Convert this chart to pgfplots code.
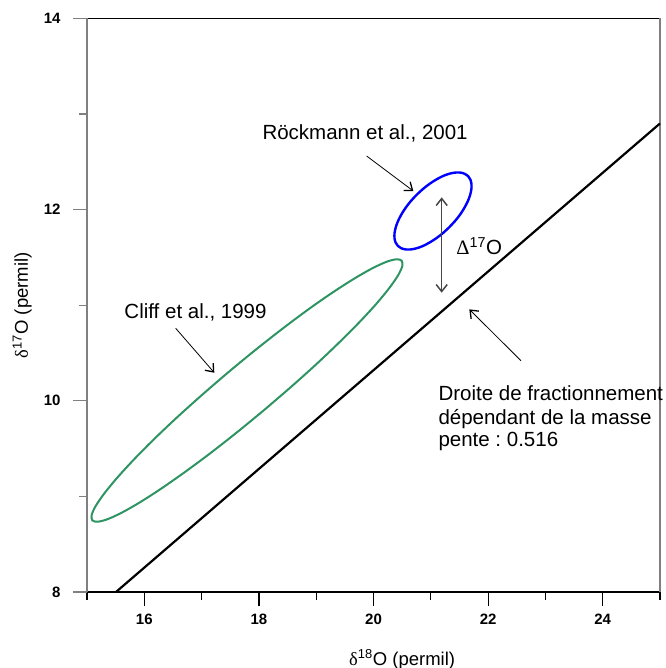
\documentclass[border=0pt]{standalone}
\usepackage{fontspec}
\setmainfont{Liberation Sans}
\newfontfamily\grk{Liberation Serif}
\usepackage{pgfplots}
\pgfplotsset{compat=1.18}
\usetikzlibrary{arrows.meta}
\definecolor{cliffgreen}{RGB}{46,148,98}
\definecolor{axisgray}{RGB}{128,128,128}
\definecolor{arrowgray}{RGB}{70,70,70}
\newcommand{\annfont}{\fontsize{20.5bp}{22bp}\selectfont}
\frenchspacing

\begin{document}
\begin{tikzpicture}
\begin{axis}[
  scale only axis, width=573bp, height=573.5bp,
  xmin=15, xmax=25, ymin=8, ymax=14,
  xtick={16,18,...,24}, minor xtick={15,17,...,25},
  ytick={8,10,12,14}, minor ytick={9,11,13},
  separate axis lines,
  x axis line style={black, line width=1.4bp},
  y axis line style={axisgray, line width=1.6bp},
  xtick pos=left, ytick pos=left,
  tick align=outside,
  major tick length=14bp, minor tick length=8bp,
  x tick style={black, line width=1.2bp},
  y tick style={axisgray, line width=1.2bp},
  tick label style={font=\bfseries\fontsize{15bp}{15bp}\selectfont},
  xticklabel style={yshift=-5bp},
  yticklabel style={xshift=-9bp},
  /pgf/number format/assume math mode=true,
  xlabel={{\grk δ}\textsuperscript{18}O (permil)},
  ylabel={{\grk δ}\textsuperscript{17}O (permil)},
  label style={font=\fontsize{18.5bp}{18.5bp}\selectfont},
  xlabel style={at={(axis description cs:0.55,0)}, anchor=base, yshift=-73bp},
  ylabel style={at={(axis description cs:-0.113,0.50)}, anchor=center},
  clip=false,
]
% droite de fractionnement dependant de la masse
\addplot[black, line width=2.2bp] coordinates {(15.506,8) (25,12.902)};

% Cliff et al., 1999
\addplot[cliffgreen, line width=2bp, smooth] coordinates {
(18.084,9.900) (17.610,9.667) (17.143,9.448) (16.695,9.249) (16.279,9.075)
(15.912,8.934) (15.600,8.828) (15.355,8.761) (15.184,8.735) (15.092,8.750)
(15.082,8.807) (15.155,8.903) (15.308,9.036) (15.537,9.202) (15.833,9.395)
(16.189,9.610) (16.595,9.840) (17.036,10.077) (17.500,10.316) (17.974,10.549)
(18.441,10.768) (18.889,10.968) (19.305,11.141) (19.673,11.282) (19.984,11.388)
(20.229,11.455) (20.400,11.481) (20.492,11.466) (20.502,11.409) (20.429,11.313)
(20.276,11.180) (20.048,11.014) (19.751,10.821) (19.395,10.607) (18.989,10.376)
(18.548,10.139) (18.084,9.900)};

% Rockmann et al., 2001
\addplot[blue, line width=2.4bp, smooth] coordinates {
(21.322,11.816) (21.212,11.755) (21.096,11.701) (20.978,11.656) (20.863,11.620)
(20.752,11.596) (20.651,11.584) (20.561,11.584) (20.486,11.596) (20.427,11.620)
(20.387,11.655) (20.367,11.700) (20.367,11.754) (20.388,11.815) (20.428,11.881)
(20.487,11.950) (20.562,12.021) (20.652,12.090) (20.754,12.156) (20.865,12.217)
(20.980,12.271) (21.098,12.316) (21.213,12.352) (21.323,12.376) (21.425,12.388)
(21.515,12.388) (21.590,12.376) (21.649,12.352) (21.689,12.317) (21.709,12.272)
(21.709,12.218) (21.688,12.157) (21.648,12.091) (21.589,12.022) (21.514,11.951)
(21.424,11.882) (21.322,11.816)};

% annotations
\node[anchor=base west, font=\annfont] at (axis cs:18.002,12.729) {Röckmann et al., 2001};
\draw[-{Straight Barb[length=7bp,width=11bp,line width=1.3bp]}, line width=0.8bp]
  (axis cs:19.881,12.561) -- (axis cs:20.695,12.195);
\node[anchor=base west, font=\annfont] at (axis cs:15.593,10.863) {Cliff et al., 1999};
\draw[-{Straight Barb[length=7bp,width=11bp,line width=1.3bp]}, line width=0.8bp]
  (axis cs:16.548,10.759) -- (axis cs:17.222,10.294);
\draw[{Straight Barb[length=7bp,width=11bp]}-{Straight Barb[length=7bp,width=11bp]}, arrowgray, line width=1.5bp]
  (axis cs:21.190,12.129) -- (axis cs:21.190,11.131);
\node[anchor=base west, font=\annfont] at (axis cs:21.387,11.526) {{\grk Δ}\textsuperscript{17}O};
\draw[-{Straight Barb[length=7bp,width=11bp,line width=1.3bp]}, line width=0.8bp]
  (axis cs:22.574,10.420) -- (axis cs:21.672,10.957);
\node[anchor=base west, font=\annfont] at (axis cs:21.073,10.001) {Droite de fractionnement};
\node[anchor=base west, font=\annfont] at (axis cs:21.073,9.757) {dépendant de la masse};
\node[anchor=base west, font=\annfont] at (axis cs:21.073,9.527) {pente : 0.516};
\end{axis}
\pgfresetboundingbox
\useasboundingbox (-87bp,-76bp) rectangle (579bp,592bp);
\end{tikzpicture}
\end{document}
